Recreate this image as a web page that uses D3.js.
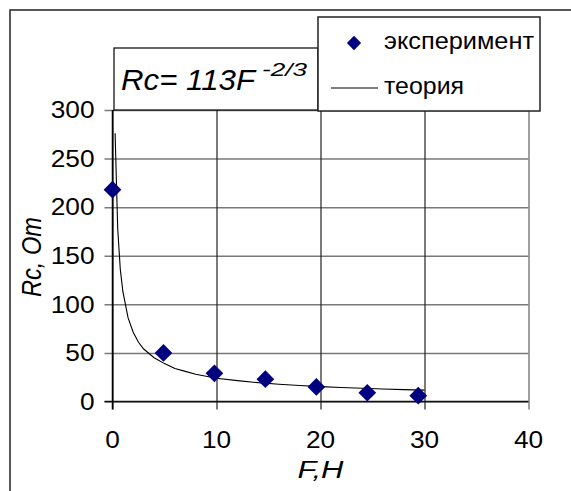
<!DOCTYPE html>
<html>
<head>
<meta charset="utf-8">
<script src="https://cdn.jsdelivr.net/npm/d3@7"></script>
<style>
  html, body { margin: 0; padding: 0; background: #fff; }
  svg { display: block; font-family: "Liberation Sans", Arial, sans-serif; }
</style>
</head>
<body>
<svg id="chart" width="571" height="491"></svg>
<script>
// Measured points (force F, N -> contact resistance Rc, Ohm)
const expF = [0, 4.9, 9.8, 14.7, 19.6, 24.5, 29.4];
const expR = [218, 50, 29, 23, 15, 9, 6];

// Theoretical curve Rc = 113 F^(-2/3), tabulated
const theoryF = [0.25, 0.5, 0.75, 1, 1.5, 2, 2.5, 3, 4, 5, 6, 7, 8, 10, 12, 14, 16, 18, 20, 22, 24, 26, 28, 30];
const theoryR = [276, 178, 136, 113, 86, 71, 61, 54, 45, 39, 34, 31, 28, 24, 21.5, 19.4, 17.8, 16.5, 15.3, 14.4, 13.6, 12.9, 12.2, 11.7];

const xTicks = [0, 10, 20, 30, 40];
const yTicks = [0, 50, 100, 150, 200, 250, 300];

const legendLabels = ["эксперимент", "теория"];
const xTitle = "F,H";
const yTitle = "Rc, Om";

const svg = d3.select("#chart");

const x = d3.scaleLinear().domain([0, 40]).range([112.5, 528.5]);
const y = d3.scaleLinear().domain([0, 300]).range([401.5, 110]);

// outer frame (left and top edges)
svg.append("path")
  .attr("d", "M10,491 L10,10 L571,10")
  .attr("fill", "none").attr("stroke", "#222").attr("stroke-width", 1.5);

// horizontal grid + y ticks
const yAxis = d3.axisLeft(y).tickValues(yTicks).tickSize(-(x(40) - x(0))).tickSizeOuter(0).tickPadding(0).tickFormat("");
const gy = svg.append("g").attr("transform", `translate(${x(0)},0)`).call(yAxis);
gy.select(".domain").remove();
gy.selectAll(".tick line").attr("stroke", "#7a7a7a").attr("stroke-width", 1.5).attr("x1", -8);

// vertical grid + x ticks
const xAxis = d3.axisBottom(x).tickValues(xTicks).tickSize(-(y(0) - y(300))).tickSizeOuter(0).tickFormat("");
const gx = svg.append("g").attr("transform", `translate(0,${y(0)})`).call(xAxis);
gx.select(".domain").remove();
gx.selectAll(".tick line")
  .attr("stroke", d => d === 40 ? "#808080" : "#222")
  .attr("stroke-width", d => d === 40 ? 1.5 : 1.2)
  .attr("y1", 8);

// axis lines
svg.append("line").attr("x1", x(0)).attr("x2", x(0)).attr("y1", y(300)).attr("y2", y(0) + 8)
  .attr("stroke", "#000").attr("stroke-width", 1.5);
svg.append("line").attr("x1", x(0) - 8).attr("x2", x(40)).attr("y1", y(0)).attr("y2", y(0))
  .attr("stroke", "#111").attr("stroke-width", 1.5);

// tick labels
svg.append("g").selectAll("text").data(yTicks).join("text")
  .attr("x", 94.5).attr("y", d => y(d) + 8.3)
  .attr("text-anchor", "end").attr("font-size", 23)
  .attr("textLength", d => String(d).length * 14.6).attr("lengthAdjust", "spacingAndGlyphs")
  .text(d => d);
svg.append("g").selectAll("text").data(xTicks).join("text")
  .attr("x", d => x(d)).attr("y", 448)
  .attr("text-anchor", "middle").attr("font-size", 23)
  .attr("textLength", d => String(d).length * 14.6).attr("lengthAdjust", "spacingAndGlyphs")
  .text(d => d);

// axis titles
svg.append("text").attr("x", x(20)).attr("y", 478)
  .attr("text-anchor", "middle").attr("font-size", 23).attr("font-style", "italic")
  .attr("textLength", 46).attr("lengthAdjust", "spacingAndGlyphs")
  .text(xTitle);
svg.append("text")
  .attr("transform", "translate(40.5,257) scale(1.25,1) rotate(-90)")
  .attr("text-anchor", "middle").attr("font-size", 22).attr("font-style", "italic")
  .attr("textLength", 80).attr("lengthAdjust", "spacingAndGlyphs")
  .text(yTitle);

// theoretical curve
const line = d3.line().x(d => x(d[0])).y(d => y(d[1]));
svg.append("path")
  .datum(d3.zip(theoryF, theoryR))
  .attr("d", line)
  .attr("fill", "none").attr("stroke", "#000").attr("stroke-width", 1.1);

// experimental points
const diamond = d3.symbol().type(d3.symbolDiamond2).size(200);
svg.append("g").selectAll("path").data(d3.zip(expF, expR)).join("path")
  .attr("transform", d => `translate(${x(d[0])},${y(d[1])})`)
  .attr("d", diamond)
  .attr("fill", "#000080");

// formula box
svg.append("rect").attr("x", 114).attr("y", 48).attr("width", 204).attr("height", 62)
  .attr("fill", "#fff").attr("stroke", "#000").attr("stroke-width", 1.2);
const f = svg.append("text").attr("font-style", "italic");
f.append("tspan").attr("x", 121).attr("y", 90).attr("font-size", 29)
  .attr("textLength", 134).attr("lengthAdjust", "spacingAndGlyphs").text("Rc= 113F");
f.append("tspan").attr("x", 262).attr("y", 76).attr("font-size", 19)
  .attr("textLength", 45).attr("lengthAdjust", "spacingAndGlyphs").text("-2/3");

// legend
svg.append("rect").attr("x", 318).attr("y", 17).attr("width", 222).attr("height", 94)
  .attr("fill", "#fff").attr("stroke", "#222").attr("stroke-width", 1.5);
svg.append("path")
  .attr("transform", "translate(354,43)")
  .attr("d", d3.symbol().type(d3.symbolDiamond2).size(130))
  .attr("fill", "#000080");
svg.append("line").attr("x1", 331).attr("x2", 378).attr("y1", 88).attr("y2", 88)
  .attr("stroke", "#555").attr("stroke-width", 1.5);
svg.append("text").attr("x", 384).attr("y", 48.5).attr("font-size", 24)
  .attr("textLength", 150).attr("lengthAdjust", "spacingAndGlyphs").text(legendLabels[0]);
svg.append("text").attr("x", 384).attr("y", 93.5).attr("font-size", 24)
  .attr("textLength", 80).attr("lengthAdjust", "spacingAndGlyphs").text(legendLabels[1]);
</script>
</body>
</html>
